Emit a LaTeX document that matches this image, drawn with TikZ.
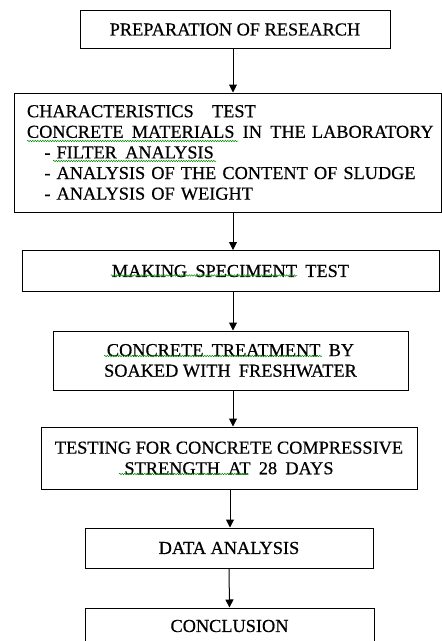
\documentclass[tikz,border=0pt]{standalone}
\usepackage{fontspec}
\setmainfont{Liberation Serif}[FakeBold=0.5]
\usetikzlibrary{arrows.meta,decorations.pathmorphing}
\newcommand{\dsp}{\hspace{0.45em}}
\begin{document}
\begin{tikzpicture}[x=1pt,y=-1pt,
  box/.style={draw,line width=1pt,inner sep=0pt,font=\fontsize{18.3}{20.6}\selectfont,align=center},
  arr/.style={line width=1pt,-{Triangle[width=8pt,length=8pt]}},
  wavy/.style={draw=green!55!black,line width=0.5pt,decorate,decoration={snake,amplitude=0.7pt,segment length=2.5pt}}]
\fill[white] (0,0) rectangle (442,641);
\useasboundingbox (0,0) rectangle (442,641);

\node[box,minimum height=38pt,minimum width=310pt] (b1) at (235,29.5) {PREPARATION OF RESEARCH};
\node[box,minimum height=119pt,inner xsep=13pt,text width=401pt,align=left] (b2) at (227.5,152.5)
 {\mbox{CHARACTERISTICS\hspace{1em}TEST}\\
  \mbox{CONCRETE\dsp MATERIALS\dsp IN\dsp THE LABORATORY}\\
  \mbox{\hspace{0.95em}- FILTER\dsp ANALYSIS}\\
  \mbox{\hspace{0.95em}- ANALYSIS OF THE CONTENT OF SLUDGE}\\
  \mbox{\hspace{0.95em}- ANALYSIS OF WEIGHT}};
\node[box,minimum width=417pt,minimum height=41pt] (b3) at (230.5,271) {MAKING\dsp SPECIMENT\dsp TEST};
\node[box,minimum width=355pt,minimum height=59pt] (b4) at (230.5,360.5) {CONCRETE\dsp TREATMENT\dsp BY\\SOAKED WITH\dsp FRESHWATER};
\node[box,minimum width=376pt,minimum height=62pt] (b5) at (229,458) {TESTING FOR CONCRETE COMPRESSIVE\\STRENGTH\dsp AT\dsp 28\dsp DAYS};
\node[box,minimum width=288pt,minimum height=40pt] (b6) at (229,548) {DATA ANALYSIS};
\node[box,minimum width=289pt,minimum height=36pt] (b7) at (229.5,626) {CONCLUSION};

\draw[arr] ([xshift=-2pt]b1.south) -- ([xshift=-2pt]b1.south |- b2.north);
\draw[arr] ([xshift=-2pt]b1.south |- b2.south) -- ([xshift=-2pt]b1.south |- b3.north);
\draw[arr] ([xshift=-2pt]b1.south |- b3.south) -- ([xshift=-2pt]b1.south |- b4.north);
\draw[arr] ([xshift=-2pt]b1.south |- b4.south) -- ([xshift=-2pt]b1.south |- b5.north);
\draw[arr] ([xshift=1pt]b5.south) -- ([xshift=1pt]b5.south |- b6.north);
\draw[arr] (b6.south) -- (b7.north);

\draw[wavy] (27,141) -- (238,141);
\draw[wavy] (53,161) -- (216,161);
\draw[wavy] (111,275.5) -- (297,275.5);
\draw[wavy] (104,356) -- (322,356);
\draw[wavy] (119,474) -- (249,474);
\end{tikzpicture}
\end{document}
